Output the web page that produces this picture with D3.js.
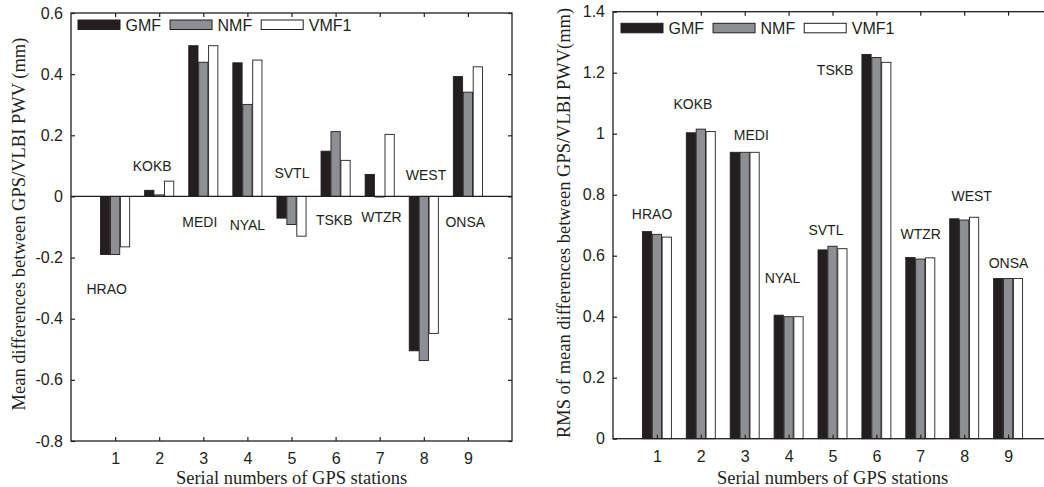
<!DOCTYPE html>
<html>
<head>
<meta charset="utf-8">
<script src="https://cdn.jsdelivr.net/npm/d3@7"></script>
<style>
  body { margin: 0; background: #fff; }
  svg { display: block; }
</style>
</head>
<body>
<div id="chart"></div>
<script>
// station names and series
const stations = ["HRAO", "KOKB", "MEDI", "NYAL", "SVTL", "TSKB", "WTZR", "WEST", "ONSA"];
const series = ["GMF", "NMF", "VMF1"];
const seriesFill = ["#231f20", "#8d8f92", "#ffffff"];

// mean differences (mm)
const meanGMF  = [-0.19, 0.02, 0.493, 0.437, -0.071, 0.148, 0.072, -0.505, 0.392];
const meanNMF  = [-0.19, 0.005, 0.439, 0.301, -0.092, 0.212, -0.002, -0.537, 0.341];
const meanVMF1 = [-0.165, 0.05, 0.493, 0.446, -0.13, 0.118, 0.203, -0.448, 0.424];

// RMS of mean differences (mm)
const rmsGMF  = [0.679, 1.003, 0.939, 0.405, 0.619, 1.26, 0.594, 0.721, 0.525];
const rmsNMF  = [0.67, 1.015, 0.939, 0.4, 0.631, 1.25, 0.589, 0.717, 0.525];
const rmsVMF1 = [0.661, 1.007, 0.939, 0.4, 0.623, 1.234, 0.593, 0.726, 0.525];

// tick values
const xTicks = [1, 2, 3, 4, 5, 6, 7, 8, 9];
const meanTicks = [-0.8, -0.6, -0.4, -0.2, 0, 0.2, 0.4, 0.6];
const rmsTicks = [0, 0.2, 0.4, 0.6, 0.8, 1, 1.2, 1.4];

// where the station names sit, in data units [station no., value]
const meanNameAt = [[0.81, -0.303], [1.84, 0.1], [2.92, -0.083], [4.0, -0.094], [5.01, 0.077],
                    [5.97, -0.077], [7.04, -0.068], [8.05, 0.071], [8.94, -0.084]];
const rmsNameAt = [[0.89, 0.736], [1.82, 1.096], [3.15, 0.996], [3.86, 0.528], [4.85, 0.686],
                   [5.06, 1.209], [7.01, 0.67], [8.17, 0.796], [9.01, 0.575]];

const W = 1044, H = 487;
const axisColor = "#231f20";
const sans = "'Liberation Sans', Arial, sans-serif";
const serif = "'Liberation Serif', 'Times New Roman', serif";

const svg = d3.select("#chart").append("svg")
  .attr("width", W)
  .attr("height", H);

const fmt = d => String(+d.toFixed(1));

function textAttr(selection, size, family) {
  selection
    .attr("font-family", family || sans)
    .attr("font-size", size)
    .attr("fill", axisColor);
}

function drawPanel(cfg) {
  const x = d3.scaleLinear().domain([0, 10]).range([cfg.left, cfg.right]);
  const y = d3.scaleLinear().domain(cfg.yDomain).range([cfg.bottom, cfg.top]);
  const g = svg.append("g");

  // bars
  const offs = [-0.225, 0, 0.225];
  const bw = 0.21;
  cfg.values.forEach((vals, s) => {
    g.selectAll("rect.s" + s)
      .data(vals)
      .enter()
      .append("rect")
      .attr("class", "s" + s)
      .attr("x", (d, i) => x(i + 1 + offs[s] - bw / 2))
      .attr("width", x(bw) - x(0))
      .attr("y", d => y(Math.max(d, 0)))
      .attr("height", d => Math.abs(y(d) - y(0)))
      .attr("fill", seriesFill[s])
      .attr("stroke", axisColor)
      .attr("stroke-width", 0.9);
  });

  // zero line
  if (cfg.yDomain[0] < 0) {
    g.append("line")
      .attr("x1", x(0)).attr("x2", x(10))
      .attr("y1", y(0)).attr("y2", y(0))
      .attr("stroke", axisColor)
      .attr("stroke-width", 1.2);
  }

  // axes, ticks inward
  const ax = g.append("g")
    .attr("transform", `translate(0,${cfg.bottom})`)
    .call(d3.axisBottom(x).tickValues(xTicks).tickSizeInner(-4).tickSizeOuter(0).tickPadding(12));
  const axTop = g.append("g")
    .attr("transform", `translate(0,${cfg.top})`)
    .call(d3.axisTop(x).tickValues(xTicks).tickSizeInner(-4).tickSizeOuter(0).tickFormat(""));
  const ay = g.append("g")
    .attr("transform", `translate(${cfg.left},0)`)
    .call(d3.axisLeft(y).tickValues(cfg.ticks).tickFormat(fmt).tickSizeInner(-4).tickSizeOuter(0).tickPadding(8));
  const ayR = g.append("g")
    .attr("transform", `translate(${cfg.right},0)`)
    .call(d3.axisRight(y).tickValues(cfg.ticks).tickSizeInner(-4).tickSizeOuter(0).tickFormat(""));

  [ax, axTop, ay, ayR].forEach(a => {
    a.select(".domain").remove();
    a.selectAll(".tick line").attr("stroke", axisColor).attr("stroke-width", 1.2);
    a.selectAll(".tick text").call(textAttr, "16px");
  });
  ax.selectAll(".tick text").attr("dy", "0.71em");

  // box
  g.append("rect")
    .attr("x", cfg.left).attr("y", cfg.top)
    .attr("width", cfg.right - cfg.left)
    .attr("height", cfg.bottom - cfg.top)
    .attr("fill", "none")
    .attr("stroke", axisColor)
    .attr("stroke-width", 1.3);

  // station names
  g.selectAll("text.name")
    .data(cfg.names)
    .enter()
    .append("text")
    .attr("class", "name")
    .attr("x", d => x(d[0]))
    .attr("y", d => y(d[1]))
    .attr("dy", "0.36em")
    .attr("text-anchor", "middle")
    .text((d, i) => stations[i])
    .call(textAttr, "14px");

  // legend
  const lg = g.append("g")
    .attr("transform", `translate(${cfg.left + cfg.legendDx},${cfg.top + cfg.legendDy})`);
  let lx = 0;
  series.forEach((name, s) => {
    lg.append("rect")
      .attr("x", lx).attr("y", 0)
      .attr("width", 42).attr("height", 9.5)
      .attr("fill", seriesFill[s])
      .attr("stroke", axisColor)
      .attr("stroke-width", 1);
    const t = lg.append("text")
      .attr("x", lx + 47.5)
      .attr("y", 5)
      .attr("dy", "0.36em")
      .text(name)
      .call(textAttr, "16px");
    lx += 47.5 + t.node().getComputedTextLength() + 9;
  });

  // axis titles
  g.append("text")
    .attr("x", (cfg.left + cfg.right) / 2)
    .attr("y", 478)
    .attr("dy", "0.35em")
    .attr("text-anchor", "middle")
    .text("Serial numbers of GPS stations")
    .call(textAttr, "18.5px", serif);
  g.append("text")
    .attr("transform", `translate(${cfg.yTitleX},${cfg.yTitleY}) rotate(-90)`)
    .attr("dy", "0.35em")
    .attr("text-anchor", "middle")
    .text(cfg.yTitle)
    .call(textAttr, "18.5px", serif);
}

drawPanel({
  left: 71, right: 512, top: 13, bottom: 441,
  yDomain: [-0.8, 0.6],
  ticks: meanTicks,
  values: [meanGMF, meanNMF, meanVMF1],
  names: meanNameAt,
  legendDx: 7, legendDy: 7,
  yTitle: "Mean differences between GPS/VLBI PWV (mm)",
  yTitleX: 18.5, yTitleY: 224
});

drawPanel({
  left: 613, right: 1052, top: 11.7, bottom: 438.7,
  yDomain: [0, 1.4],
  ticks: rmsTicks,
  values: [rmsGMF, rmsNMF, rmsVMF1],
  names: rmsNameAt,
  legendDx: 8, legendDy: 11.6,
  yTitle: "RMS of mean differences between GPS/VLBI PWV(mm)",
  yTitleX: 563.5, yTitleY: 223
});
</script>
</body>
</html>
